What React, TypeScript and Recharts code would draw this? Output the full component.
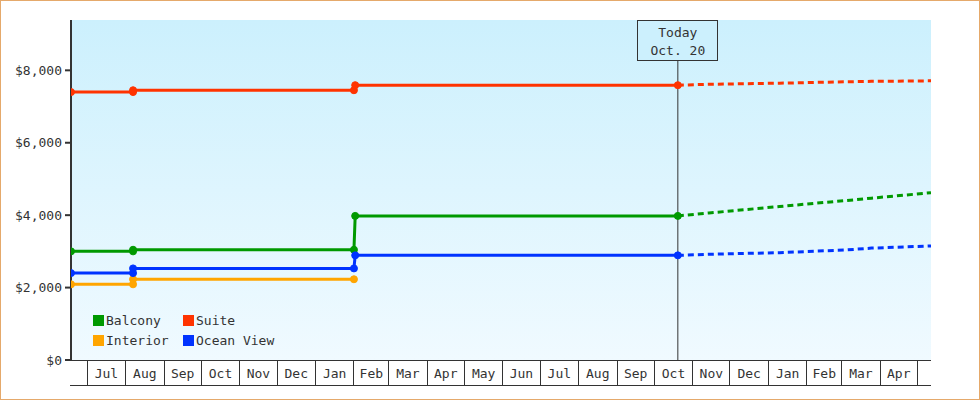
import React from 'react';
import { LineChart, Line, XAxis, YAxis, CartesianGrid, ReferenceLine, Legend } from 'recharts';

const FONT = '"DejaVu Sans Mono", monospace';
const INK = '#333333';

// ---- axes ----
const domainDates = ['2017-06-18', '2019-05-12'];
const monthStarts = [
  '2017-07-01', '2017-08-01', '2017-09-01', '2017-10-01', '2017-11-01', '2017-12-01',
  '2018-01-01', '2018-02-01', '2018-03-01', '2018-04-01', '2018-05-01', '2018-06-01',
  '2018-07-01', '2018-08-01', '2018-09-01', '2018-10-01', '2018-11-01', '2018-12-01',
  '2019-01-01', '2019-02-01', '2019-03-01', '2019-04-01', '2019-05-01',
];
const monthLabels = [
  'Jul', 'Aug', 'Sep', 'Oct', 'Nov', 'Dec', 'Jan', 'Feb', 'Mar', 'Apr', 'May', 'Jun',
  'Jul', 'Aug', 'Sep', 'Oct', 'Nov', 'Dec', 'Jan', 'Feb', 'Mar', 'Apr',
];
const yTicks = [0, 2000, 4000, 6000, 8000];
const yMax = 9390;

// ---- series: history ----
const historyDates = ['2017-06-18', '2017-08-07', '2017-08-07', '2018-02-01', '2018-02-02', '2018-10-20'];
const balconyHistory = [3000, 3000, 3045, 3045, 3980, 3980];
const suiteHistory = [7400, 7400, 7450, 7450, 7590, 7590];
const oceanViewHistory = [2400, 2400, 2530, 2530, 2890, 2890];
const interiorHistory = [2090, 2090, 2230, 2230];

// ---- series: forecast ----
const forecastDates = ['2018-10-20', '2018-11-14', '2019-01-10', '2019-03-05', '2019-03-25', '2019-05-12'];
const balconyForecast = [3980, 4060, 4240, 4405, 4470, 4620];
const suiteForecast = [7590, 7615, 7645, 7685, 7695, 7710];
const oceanViewForecast = [2890, 2920, 2965, 3040, 3090, 3150];

// ---- today marker ----
const todayDate = '2018-10-20';
const todayLabel = ['Today', 'Oct. 20'];

const seriesNames = ['Balcony', 'Suite', 'Interior', 'Ocean View'];
const seriesColors = ['#009900', '#ff3300', '#ffa500', '#0033ff'];

const toData = (dates: string[], values: number[]) =>
  values.map((v, i) => ({ t: Date.parse(dates[i]), v }));

const boundaries = monthStarts.map((d) => Date.parse(d));
const mids = monthLabels.map((_, i) => (boundaries[i] + boundaries[i + 1]) / 2);
const allTicks = [...boundaries, ...mids].sort((a, b) => a - b);
const domain = domainDates.map((d) => Date.parse(d));

const AXIS_H = 25;

const MonthTick = (props: any) => {
  const { x, y, payload } = props;
  const v = payload.value;
  if (boundaries.indexOf(v) >= 0) {
    return <line x1={x} x2={x} y1={y} y2={y + AXIS_H} stroke={INK} shapeRendering="crispEdges" />;
  }
  const mi = mids.indexOf(v);
  return (
    <text x={x} y={y + 18} textAnchor="middle" fontFamily={FONT} fontSize={13} fill={INK}>
      {monthLabels[mi]}
    </text>
  );
};

const AxisBase = (props: any) => {
  const vb = props.viewBox;
  if (!vb) return null;
  return (
    <line
      x1={vb.x - 1}
      x2={vb.x + vb.width}
      y1={vb.y + vb.height}
      y2={vb.y + vb.height}
      stroke={INK}
      shapeRendering="crispEdges"
    />
  );
};

const TodayBox = (props: any) => {
  const vb = props.viewBox;
  if (!vb) return null;
  const cx = vb.x;
  const top = vb.y;
  return (
    <g>
      <rect x={cx - 40} y={top} width={80} height={40} fill="#ccf0fd" stroke={INK} shapeRendering="crispEdges" />
      <text x={cx} y={top + 17} textAnchor="middle" fontFamily={FONT} fontSize={13} fill={INK}>
        {todayLabel[0]}
      </text>
      <text x={cx} y={top + 35} textAnchor="middle" fontFamily={FONT} fontSize={13} fill={INK}>
        {todayLabel[1]}
      </text>
    </g>
  );
};

const LegendContent = () => (
  <div
    style={{
      display: 'grid',
      gridTemplateColumns: '90px 110px',
      fontFamily: FONT,
      fontSize: 13,
      color: INK,
    }}
  >
    {seriesNames.map((name, i) => (
      <div key={name} style={{ display: 'flex', alignItems: 'center', height: 20 }}>
        <span
          style={{ display: 'inline-block', width: 11, height: 11, background: seriesColors[i], marginRight: 2 }}
        />
        <span>{name}</span>
      </div>
    ))}
  </div>
);

const fmt = (v: number) => '$' + v.toLocaleString('en-US');

const dotFor = (c: string) => ({ r: 3.5, fill: c, stroke: c, strokeWidth: 1 });

export default function App() {
  const history = [
    toData(historyDates, balconyHistory),
    toData(historyDates, suiteHistory),
    toData(historyDates, interiorHistory),
    toData(historyDates, oceanViewHistory),
  ];
  const forecast = [
    { i: 0, data: toData(forecastDates, balconyForecast) },
    { i: 1, data: toData(forecastDates, suiteForecast) },
    { i: 3, data: toData(forecastDates, oceanViewForecast) },
  ];
  return (
    <div style={{ position: 'absolute', left: 0, top: 0, width: 980, height: 400, background: '#fff' }}>
      <LineChart width={980} height={400} margin={{ top: 20, right: 49, bottom: 15, left: 0 }}>
        <defs>
          <linearGradient id="plotBg" x1="0" y1="0" x2="0" y2="1">
            <stop offset="0%" stopColor="#ccf0fd" />
            <stop offset="100%" stopColor="#f0faff" />
          </linearGradient>
        </defs>
        <CartesianGrid fill="url(#plotBg)" horizontal={false} vertical={false} stroke="none" />
        <XAxis
          dataKey="t"
          type="number"
          domain={domain}
          allowDataOverflow
          ticks={allTicks}
          interval={0}
          tick={<MonthTick />}
          tickLine={false}
          tickSize={0}
          tickMargin={0}
          axisLine={{ stroke: INK, shapeRendering: 'crispEdges' }}
          height={AXIS_H}
          label={<AxisBase />}
        />
        <YAxis
          type="number"
          domain={[0, yMax]}
          allowDataOverflow
          ticks={yTicks}
          interval={0}
          width={71}
          tickFormatter={fmt}
          axisLine={{ stroke: INK, strokeWidth: 2 }}
          tickLine={{ stroke: INK, strokeWidth: 2 }}
          tickSize={6}
          tickMargin={3}
          tick={{ fontFamily: FONT, fontSize: 13, fill: INK }}
        />
        <ReferenceLine
          x={Date.parse(todayDate)}
          stroke={INK}
          strokeWidth={1}
          ifOverflow="visible"
          label={<TodayBox />}
        />
        {forecast.map((f) => (
          <Line
            key={'f' + f.i}
            data={f.data}
            dataKey="v"
            name={seriesNames[f.i] + ' forecast'}
            legendType="none"
            type="linear"
            stroke={seriesColors[f.i]}
            strokeWidth={3}
            strokeDasharray="6 4"
            dot={false}
            activeDot={false}
            isAnimationActive={false}
          />
        ))}
        {history.map((d, i) => (
          <Line
            key={'h' + i}
            data={d}
            dataKey="v"
            name={seriesNames[i]}
            type="linear"
            stroke={seriesColors[i]}
            strokeWidth={3}
            dot={dotFor(seriesColors[i])}
            activeDot={false}
            isAnimationActive={false}
          />
        ))}
        <Legend
          layout="vertical"
          align="center"
          verticalAlign="middle"
          wrapperStyle={{ left: 93, top: 310, width: 210, height: 40 }}
          content={<LegendContent />}
        />
      </LineChart>
      <div
        style={{
          position: 'absolute',
          left: 0,
          top: 0,
          width: 980,
          height: 400,
          border: '1px solid #e5a96b',
          boxSizing: 'border-box',
          pointerEvents: 'none',
        }}
      />
    </div>
  );
}
